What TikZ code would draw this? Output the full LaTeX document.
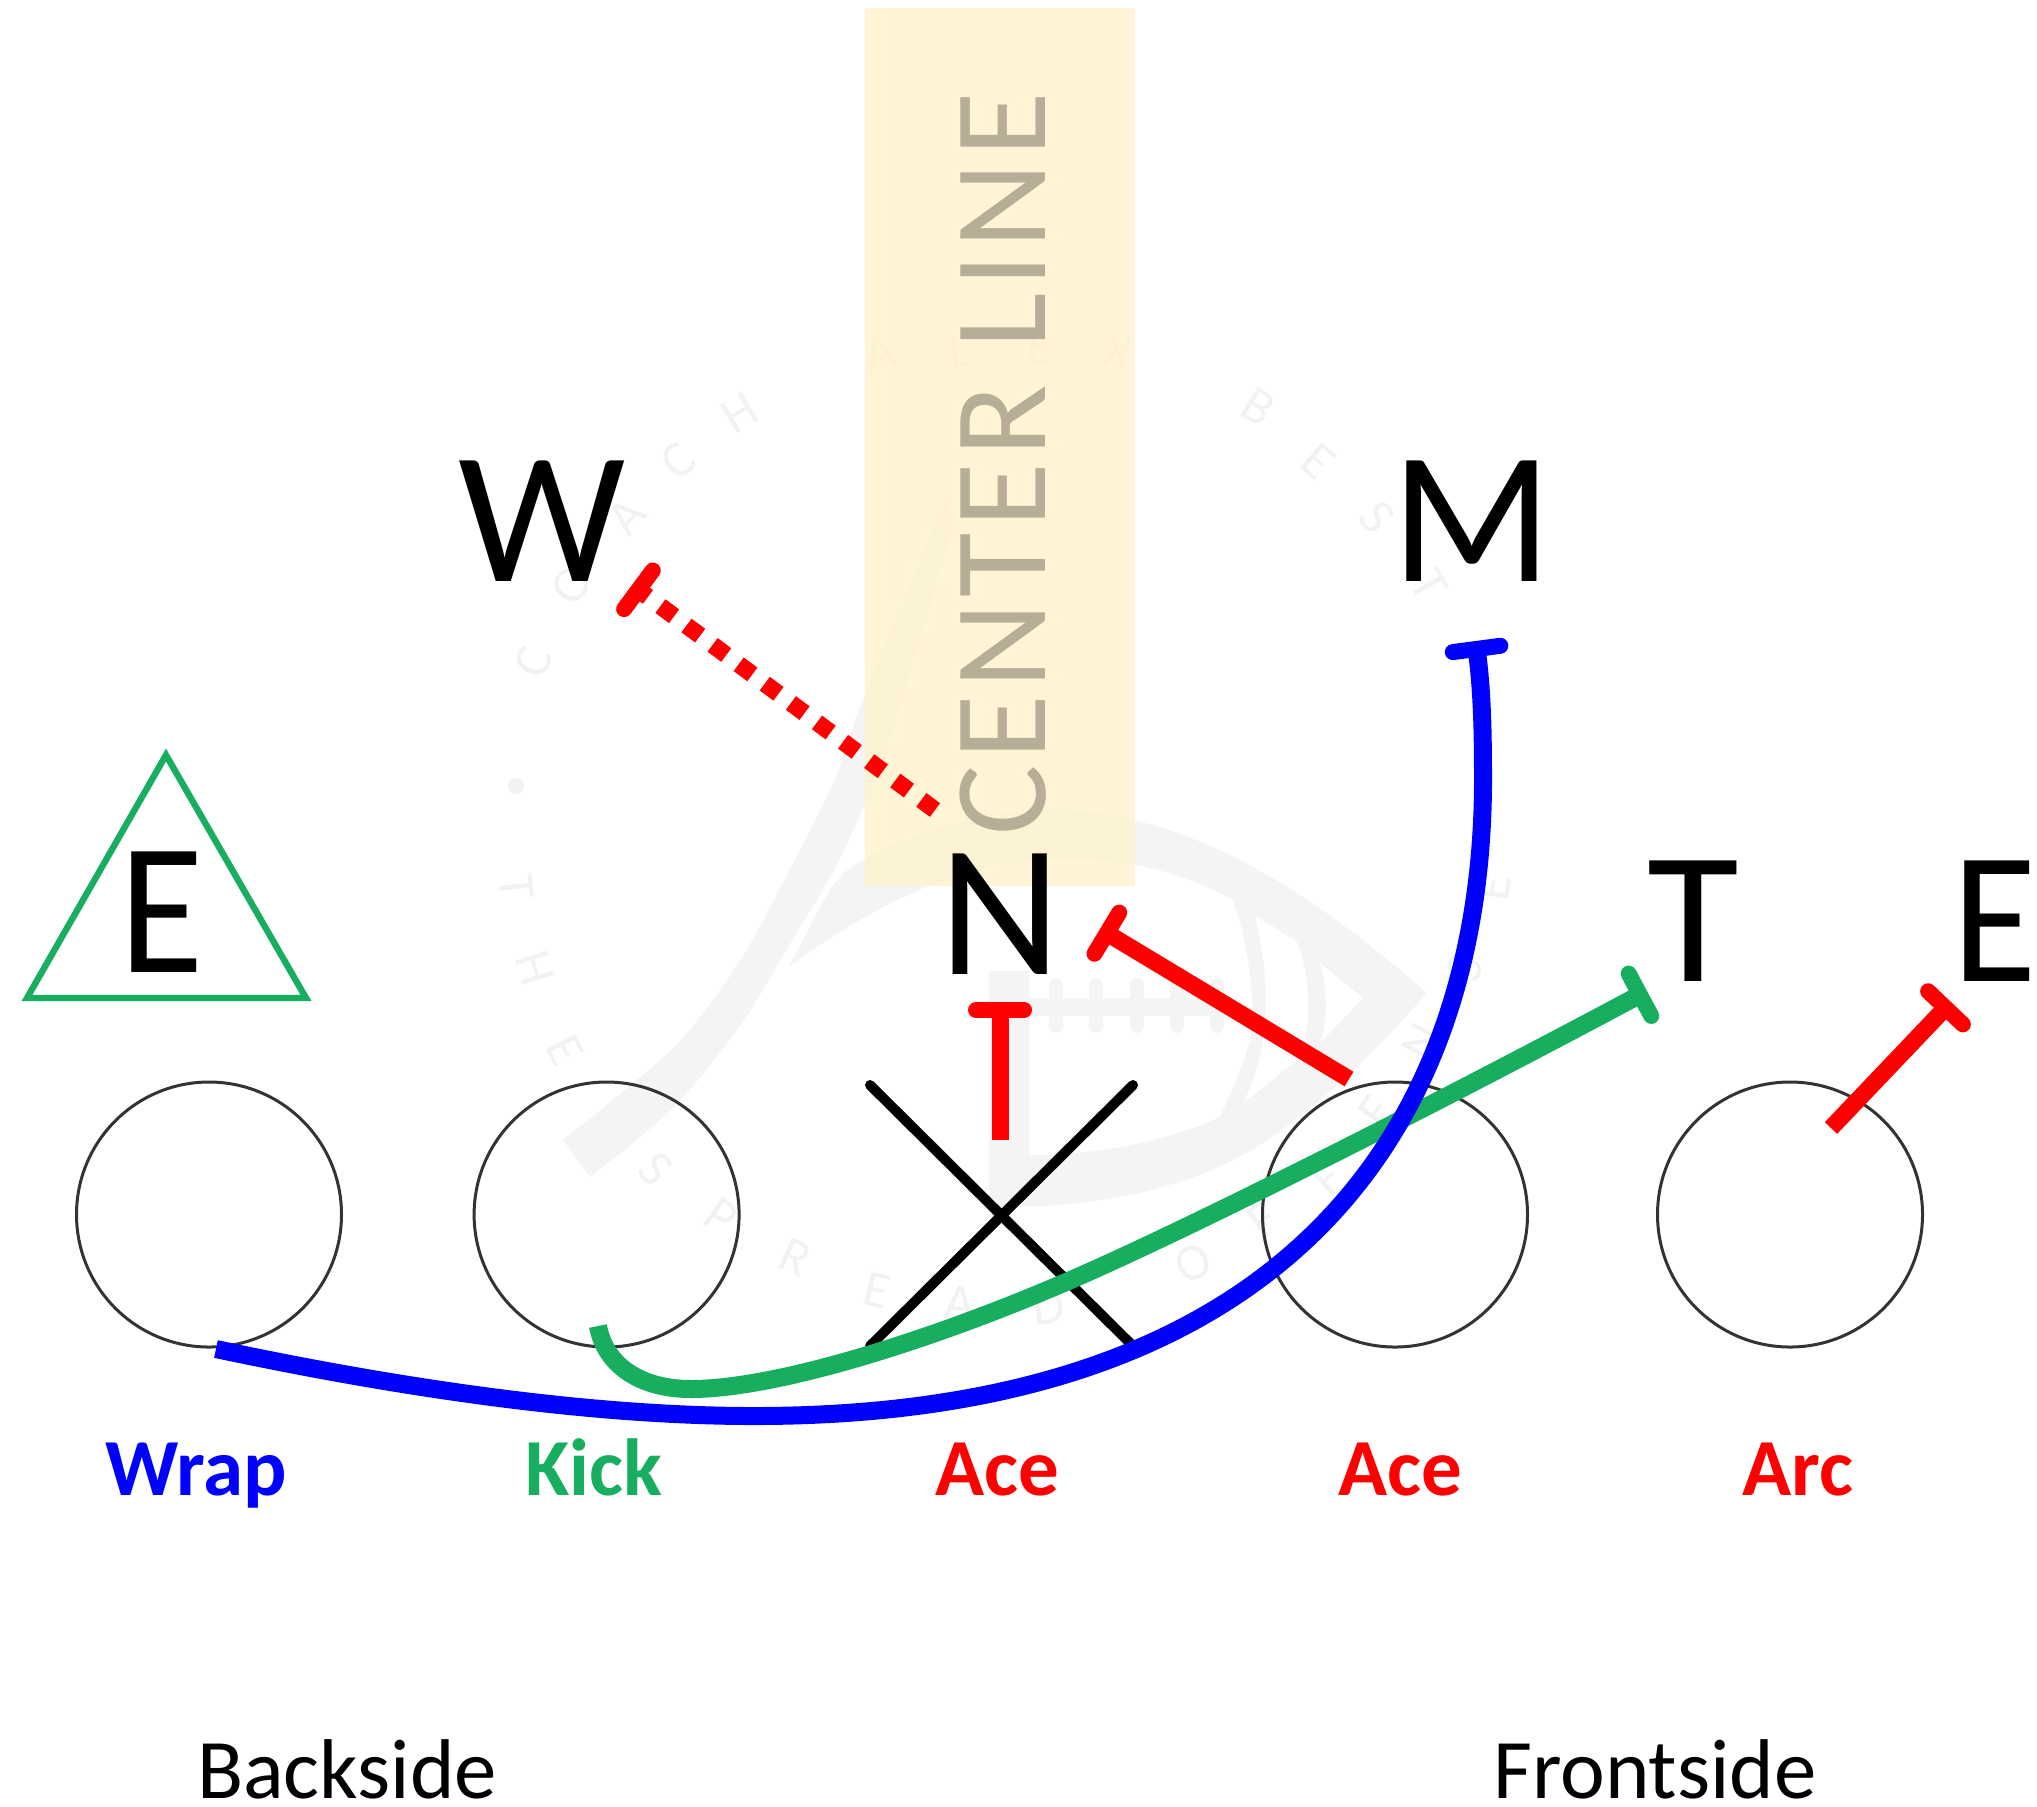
\documentclass[tikz,border=0pt]{standalone}
\usepackage{fontspec}
\setmainfont{Carlito}
\usetikzlibrary{arrows.meta}
\definecolor{kickgreen}{HTML}{17AF5F}
\definecolor{logogrey}{HTML}{F4F4F4}
\definecolor{markgrey}{HTML}{F2F2F2}
\definecolor{bandfill}{HTML}{FFF2CC}
\definecolor{bandtext}{HTML}{B8AE98}
\definecolor{ringline}{HTML}{333333}
\tikzset{
  ring/.style={circle,draw=ringline,line width=1.5pt,minimum size=132.5pt,inner sep=0pt,outer sep=0pt},
  defender/.style={font=\fontsize{94}{94}\selectfont,anchor=base,inner sep=0pt},
  callword/.style={font=\fontsize{40.5}{40.5}\selectfont\bfseries,anchor=base,inner sep=0pt},
  sideword/.style={font=\fontsize{42.4}{42.4}\selectfont,anchor=base,inner sep=0pt},
  route/.style={line width=8.5pt},
  thickroute/.style={line width=9pt},
  teetip/.style={-{Bar[width=24pt,line width=8pt,round]}},
  wmark/.style={font=\fontsize{26}{26}\selectfont,text=markgrey,inner sep=0pt},
}
\begin{document}
\begin{tikzpicture}[x=0.5pt,y=-0.5pt]
\useasboundingbox (0,0) rectangle (2037,1806);
% watermark logo
\fill[logogrey] plot[smooth] coordinates {(563,1140) (620,1094) (681,1040) (740,961) (790,869) (833,783) (865,694) (949,491)}
  -- plot[smooth] coordinates {(950,537) (882,765) (860,815) (833,872) (790,944) (740,1026) (673,1108) (590,1177)} -- cycle;
\fill[logogrey] (788,967) .. controls (810,930) and (825,890) .. (845,872)
  .. controls (900,830) and (1000,808) .. (1060,810)
  .. controls (1200,815) and (1320,900) .. (1427,993)
  .. controls (1390,1035) and (1330,1100) .. (1260,1145)
  .. controls (1180,1195) and (1080,1208) .. (989,1207)
  -- (989,971) -- (1029,971) -- (1029,1155)
  .. controls (1100,1155) and (1170,1140) .. (1220,1117)
  .. controls (1245,1060) and (1255,1040) .. (1252,1000)
  .. controls (1250,960) and (1243,930) .. (1233,900)
  .. controls (1170,865) and (1110,858) .. (1050,859)
  .. controls (950,862) and (860,915) .. (788,967) -- cycle;
\fill[white] (1255,915) -- (1297,942) .. controls (1310,975) and (1315,1030) .. (1295,1062)
  -- (1243,1103) .. controls (1265,1060) and (1275,1000) .. (1255,915) -- cycle;
\fill[white] (1320,963) -- (1363,998) -- (1320,1043) .. controls (1328,1020) and (1328,990) .. (1320,963) -- cycle;
\draw[logogrey,line width=9pt] (1029,1007) -- (1225,1007);
\foreach \lx in {1056,1096,1137,1177,1217}
  \draw[logogrey,line width=7pt,line cap=round] (\lx,985) -- (\lx,1026);
% watermark lettering
\foreach \wx/\wy/\wl [count=\wi] in {533/662/C,572/585/O,626/516/A,678/461/C,740/413/H,880/353/A,960/350/L,1040/347/E,1118/352/X,1258/407/B,1318/461/E,1377/517/S,1429/585/T}
  \pgfmathsetmacro{\wr}{-atan2(\wx-995,828-\wy)}
  \node[wmark,rotate=\wr] (wt\wi) at (\wx,\wy) {\wl};
\foreach \wx/\wy/\wl [count=\wi] in {517/887/T,535/968/H,565/1050/E,656/1169/S,721/1217/P,795/1257/R,877/1290/E,960/1303/A,1049/1307/D,1193/1263/O,1263/1220/F,1328/1178/F,1377/1111/E,1422/1042/N,1465/968/S,1493/888/E}
  \pgfmathsetmacro{\wr}{atan2(\wx-995,\wy-828)}
  \node[wmark,rotate=\wr] (wb\wi) at (\wx,\wy) {\wl};
\fill[markgrey] (516,786) circle[radius=8];
% centre band
\fill[bandfill,opacity=.8] (865,8) rectangle (1135,886);
\node[rotate=90,anchor=base west,inner sep=0pt,text=bandtext,font=\fontsize{66}{66}\selectfont\addfontfeature{LetterSpace=4.6}] (center) at (1045,836) {CENTER LINE};
% offensive line
\node[ring] (p1) at (209,1214.5) {};
\node[ring] (p2) at (606.6,1214.5) {};
\node[ring] (p4) at (1395,1214.5) {};
\node[ring] (p5) at (1790,1214.5) {};
\coordinate (xa) at (870,1085);
\coordinate (xb) at (1133,1346);
\coordinate (xc) at (1133,1085);
\coordinate (xd) at (870,1346);
\draw[line width=5pt,line cap=round] (xa) -- (xb);
\draw[line width=5pt,line cap=round] (xc) -- (xd);
% defenders
\draw[kickgreen,line width=3.2pt] (166,755) -- (306,998) -- (27,998) -- cycle;
\node[defender,xscale=.92] (dE) at (162,972) {E};
\node[defender] (dW) at (542,581) {W};
\node[defender] (dM) at (1472,581) {M};
\node[defender] (dN) at (1000,974) {N};
\node[defender] (dT) at (1693,981) {T};
\node[defender,xscale=.92] (dF) at (1995,981) {E};
% routes
\coordinate (w0) at (935,810);   \coordinate (w1) at (632,585);
\coordinate (n0) at (1000,1140); \coordinate (n1) at (1000,1002);
\coordinate (a0) at (1349,1079); \coordinate (a1) at (1100,929);
\coordinate (r0) at (1831,1128); \coordinate (r1) at (1951,1002);
\coordinate (k0) at (598,1326);  \coordinate (k1) at (1647,991);
\coordinate (b0) at (216,1349);  \coordinate (b1) at (1475.5,641);
\draw[route,red,teetip,dash pattern=on 8.5pt off 7.75pt] (w0) -- (w1);
\draw[route,red,teetip] (n0) -- (n1);
\draw[route,red,teetip] (a0) -- (a1);
\draw[route,red,teetip] (r0) -- (r1);
\draw[thickroute,kickgreen,teetip] (k0) .. controls (605,1365) and (640,1389) .. (691,1389)
  .. controls (780,1389) and (950,1335) .. (1100,1267)
  .. controls (1250,1199) and (1490,1075) .. (k1);
\draw[thickroute,blue,teetip] (b0) .. controls (400,1388) and (590,1416) .. (754,1416)
  .. controls (1314,1416) and (1483,1100) .. (1483,780)
  .. controls (1483,730) and (1482,690) .. (b1);
% calls
\node[callword,text=blue] (lw) at (196,1495) {Wrap};
\node[callword,text=kickgreen] (lk) at (594,1495) {Kick};
\node[callword,text=red] (la1) at (997,1495) {Ace};
\node[callword,text=red] (la2) at (1400,1495) {Ace};
\node[callword,text=red] (la3) at (1798,1495) {Arc};
\node[sideword] (bs) at (347,1798) {Backside};
\node[sideword] (fs) at (1655,1798) {Frontside};
\end{tikzpicture}
\end{document}
